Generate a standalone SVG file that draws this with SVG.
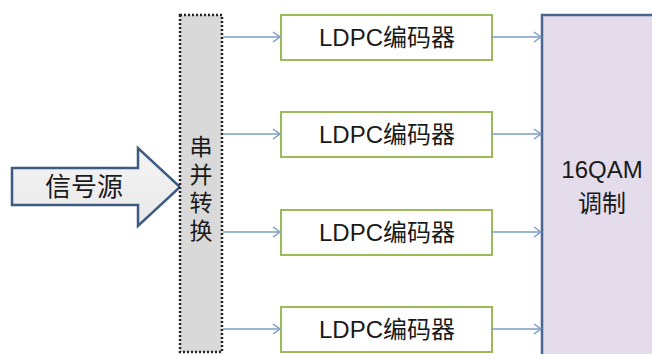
<svg xmlns="http://www.w3.org/2000/svg" width="652" height="354" viewBox="0 0 652 354">
<defs>
<style>
.t{font-family:"Liberation Sans","Noto Sans CJK SC",sans-serif;font-size:24px;fill:#1a1a1a;text-anchor:middle}
.enc{fill:#ffffff;stroke:#9bbb59;stroke-width:2}
.con{stroke:#7d9cc4;stroke-width:1.5;fill:none}
</style>
<marker id="ah" markerWidth="12" markerHeight="12" refX="10" refY="6" orient="auto" markerUnits="userSpaceOnUse">
<path d="M3,1 L10,6 L3,11" fill="none" stroke="#7d9cc4" stroke-width="1.5"/>
</marker>
<linearGradient id="ag" x1="0" y1="0" x2="0" y2="1">
<stop offset="0" stop-color="#f4f4f4"/>
<stop offset="1" stop-color="#e8e8e8"/>
</linearGradient>
</defs>
<g id="source">
<path d="M12,168 L138,168 L138,148 L180,187 L138,226 L138,205 L12,205 Z" fill="url(#ag)" stroke="#3d5a80" stroke-width="2.5" stroke-linejoin="miter"/>
<text class="t" x="84" y="196" style="font-size:26px">信号源</text>
</g>
<g id="sp">
<rect x="180" y="15" width="42" height="337" fill="#d9d9d9" stroke="#222" stroke-width="2.5" stroke-dasharray="2,2"/>
<text class="t" x="201" y="155" style="font-size:23px">串</text>
<text class="t" x="201" y="183" style="font-size:23px">并</text>
<text class="t" x="201" y="211" style="font-size:23px">转</text>
<text class="t" x="201" y="239" style="font-size:23px">换</text>
</g>
<g id="enc1"><rect class="enc" x="281" y="15" width="211" height="45"/><text class="t" x="387" y="46">LDPC编码器</text></g>
<g id="enc2"><rect class="enc" x="281" y="112" width="211" height="45"/><text class="t" x="387" y="143">LDPC编码器</text></g>
<g id="enc3"><rect class="enc" x="281" y="210" width="211" height="45"/><text class="t" x="387" y="241">LDPC编码器</text></g>
<g id="enc4"><rect class="enc" x="281" y="307" width="211" height="45"/><text class="t" x="387" y="338">LDPC编码器</text></g>
<g id="mod">
<rect x="542" y="15" width="120" height="350" fill="#e4dcea" stroke="#4a6592" stroke-width="2.5"/>
<text class="t" x="602" y="178">16QAM</text>
<text class="t" x="602" y="212">调制</text>
</g>
<g id="connectors">
<line class="con" x1="223" y1="37" x2="280" y2="37" marker-end="url(#ah)"/>
<line class="con" x1="223" y1="134" x2="280" y2="134" marker-end="url(#ah)"/>
<line class="con" x1="223" y1="232" x2="280" y2="232" marker-end="url(#ah)"/>
<line class="con" x1="223" y1="329" x2="280" y2="329" marker-end="url(#ah)"/>
<line class="con" x1="492" y1="37" x2="541" y2="37" marker-end="url(#ah)"/>
<line class="con" x1="492" y1="134" x2="541" y2="134" marker-end="url(#ah)"/>
<line class="con" x1="492" y1="232" x2="541" y2="232" marker-end="url(#ah)"/>
<line class="con" x1="492" y1="329" x2="541" y2="329" marker-end="url(#ah)"/>
</g>
</svg>
